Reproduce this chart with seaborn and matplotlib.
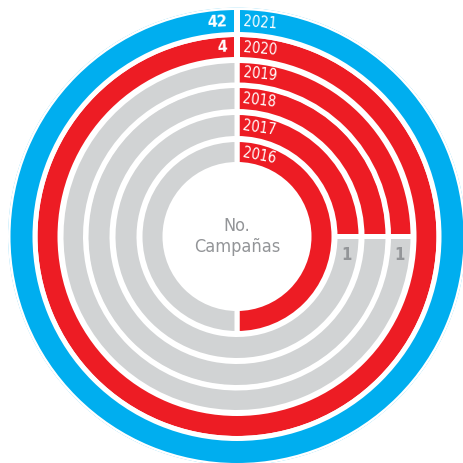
import numpy as np
import matplotlib.pyplot as plt
import seaborn as sns

# datos
anios = ['2016', '2017', '2018', '2019', '2020', '2021']
campanas = [2, 1, 1, 1, 4, 42]
maximos = [4, 4, 4, 4, 4, 42]
etiquetas = ['', '1', '', '1', '4', '42']
colores = ['#ED1C24', '#ED1C24', '#ED1C24', '#ED1C24', '#ED1C24', '#00AEEF']
gris = '#D1D3D4'
gris_txt = '#939598'

# radios de cada anillo (en px)
r_in = [72, 98, 125, 151.5, 177, 202]
r_out = [97, 124, 151, 176, 202, 229]

sns.set_theme(style='white')
plt.rcParams['font.family'] = ['DejaVu Sans']
plt.rcParams['font.stretch'] = 'condensed'

fig = plt.figure(figsize=(4.64, 4.63), dpi=100)
ax = fig.add_axes([8 / 464, -2.5 / 463, 458 / 464, 458 / 463], projection='polar')
ax.set_theta_zero_location('N')
ax.set_theta_direction(-1)
ax.set_ylim(0, 229)
ax.set_axis_off()

lw = 3.6
for i in range(len(anios)):
    frac = campanas[i] / maximos[i]
    ang = 2 * np.pi * frac
    h = r_out[i] - r_in[i]
    rm = (r_in[i] + r_out[i]) / 2
    ax.bar(ang / 2, h, width=ang, bottom=r_in[i], color=colores[i],
           edgecolor='white', linewidth=lw)
    if frac < 1:
        ax.bar(ang + (2 * np.pi - ang) / 2, h, width=2 * np.pi - ang,
               bottom=r_in[i], color=gris, edgecolor='white', linewidth=lw)
    # etiqueta del año
    rot = -np.degrees(np.arcsin(20 / rm)) * 0.8
    ax.text(np.arcsin(6 / rm), rm, anios[i], color='white', fontsize=10.5,
            fontstretch='condensed', ha='left', va='center', rotation=rot,
            rotation_mode='anchor')
    # valores
    if etiquetas[i] and frac >= 1:
        ax.text(-np.arcsin(10 / rm), rm, etiquetas[i], color='white',
                fontsize=11.5, fontweight='bold', fontstretch='condensed',
                ha='right', va='center',
                rotation=np.degrees(np.arcsin(14 / rm)) * 0.6,
                rotation_mode='anchor')
    elif etiquetas[i]:
        ax.text(ang + np.arcsin(18.5 / rm), rm, etiquetas[i], color=gris_txt,
                fontsize=12, fontweight='bold', fontstretch='condensed',
                ha='center', va='center')

ax.text(0.5, 0.5, 'No.\nCampañas', transform=ax.transAxes, color=gris_txt,
        fontsize=13, fontstretch='condensed', ha='center', va='center',
        linespacing=1.15)

fig.savefig('out.png', dpi=100)
